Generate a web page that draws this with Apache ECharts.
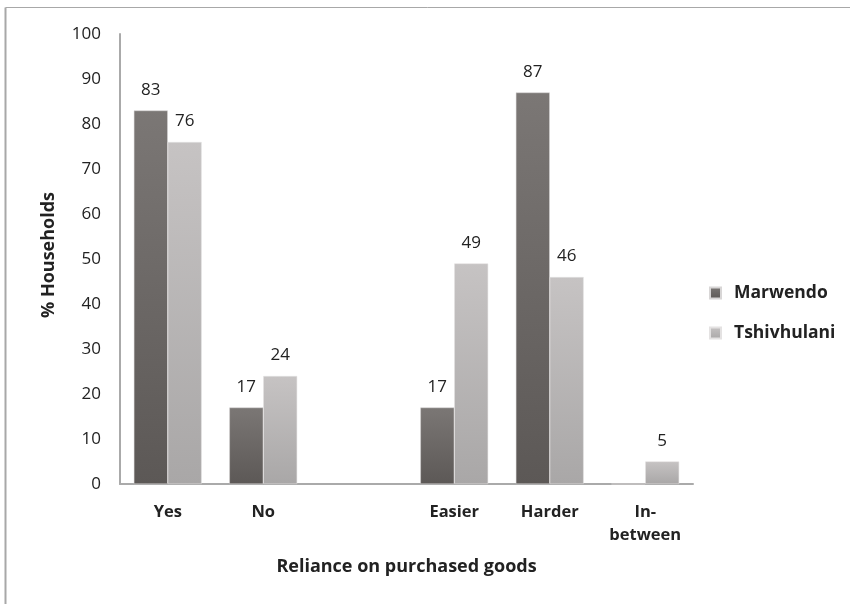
<!DOCTYPE html>
<html>
<head>
<meta charset="utf-8">
<script src="https://cdn.jsdelivr.net/npm/echarts@6/dist/echarts.min.js"></script>
<style>html,body{margin:0;padding:0;background:#fff}#c{width:850px;height:604px}</style>
</head>
<body>
<div id="c"></div>
<script>
const categories = ['Yes', 'No', '', 'Easier', 'Harder', 'In-\nbetween'];
const marwendo = [83, 17, null, 17, 87, 0];
const tshivhulani = [76, 24, null, 49, 46, 5];
const yTicks = [0, 10, 20, 30, 40, 50, 60, 70, 80, 90, 100];

const font = "'Open Sans', 'Liberation Sans', sans-serif";
const chart = echarts.init(document.getElementById('c'));
function grad(a, b) {
  return new echarts.graphic.LinearGradient(0, 0, 0, 1, [{offset: 0, color: a}, {offset: 1, color: b}]);
}
chart.setOption({
  animation: false,
  backgroundColor: '#fff',
  graphic: [
    {type: 'line', shape: {x1: 5.5, y1: 7.5, x2: 850, y2: 7.5}, style: {stroke: '#a8a8a8', lineWidth: 1}},
    {type: 'line', shape: {x1: 5.5, y1: 7.5, x2: 5.5, y2: 604}, style: {stroke: '#a8a8a8', lineWidth: 2}}
  ],
  grid: {left: 120, top: 34, right: 157, bottom: 120, containLabel: false},
  legend: {
    orient: 'vertical', left: 704, top: 279, itemWidth: 11, itemHeight: 11, itemGap: 22,
    icon: 'rect',
    textStyle: {fontFamily: font, fontSize: 17.5, fontWeight: 'bold', color: '#222', padding: [0, 0, 0, 8]},
    data: ['Marwendo', 'Tshivhulani']
  },
  xAxis: {
    type: 'category', data: categories,
    axisLine: {lineStyle: {color: '#aaa', width: 2}},
    axisTick: {show: false},
    axisLabel: {fontFamily: font, fontSize: 16.5, fontWeight: 'bold', color: '#222', margin: 17, lineHeight: 23, interval: 0},
    name: 'Reliance on purchased goods', nameLocation: 'middle', nameGap: 74,
    nameTextStyle: {fontFamily: font, fontSize: 18, fontWeight: 'bold', color: '#222'}
  },
  yAxis: {
    type: 'value', min: 0, max: 100, interval: 10,
    axisLine: {show: true, lineStyle: {color: '#aaa', width: 2}},
    axisTick: {show: false},
    splitLine: {show: false},
    axisLabel: {fontFamily: font, fontSize: 17, color: '#222', margin: 19,
      formatter: v => yTicks.includes(v) ? String(v) : ''},
    name: '% Households', nameLocation: 'middle', nameGap: 62,
    nameTextStyle: {fontFamily: font, fontSize: 18, fontWeight: 'bold', color: '#222', padding: [0, 0, 0, 8]}
  },
  series: [
    {
      name: 'Marwendo', type: 'bar', data: marwendo, barGap: '0%', barCategoryGap: '29%',
      itemStyle: {color: grad('#7b7775', '#5c5856'), borderColor: '#d8d6d6', borderWidth: 0.5},
      label: {show: true, position: 'top', distance: 12, fontFamily: font, fontSize: 17, color: '#222',
        formatter: p => (p.value ? p.value : '')}
    },
    {
      name: 'Tshivhulani', type: 'bar', data: tshivhulani,
      itemStyle: {color: grad('#c6c3c3', '#a9a7a7'), borderColor: '#e4e2e2', borderWidth: 0.5},
      label: {show: true, position: 'top', distance: 12, fontFamily: font, fontSize: 17, color: '#222',
        formatter: p => (p.value ? p.value : '')}
    }
  ]
});
</script>
</body>
</html>
